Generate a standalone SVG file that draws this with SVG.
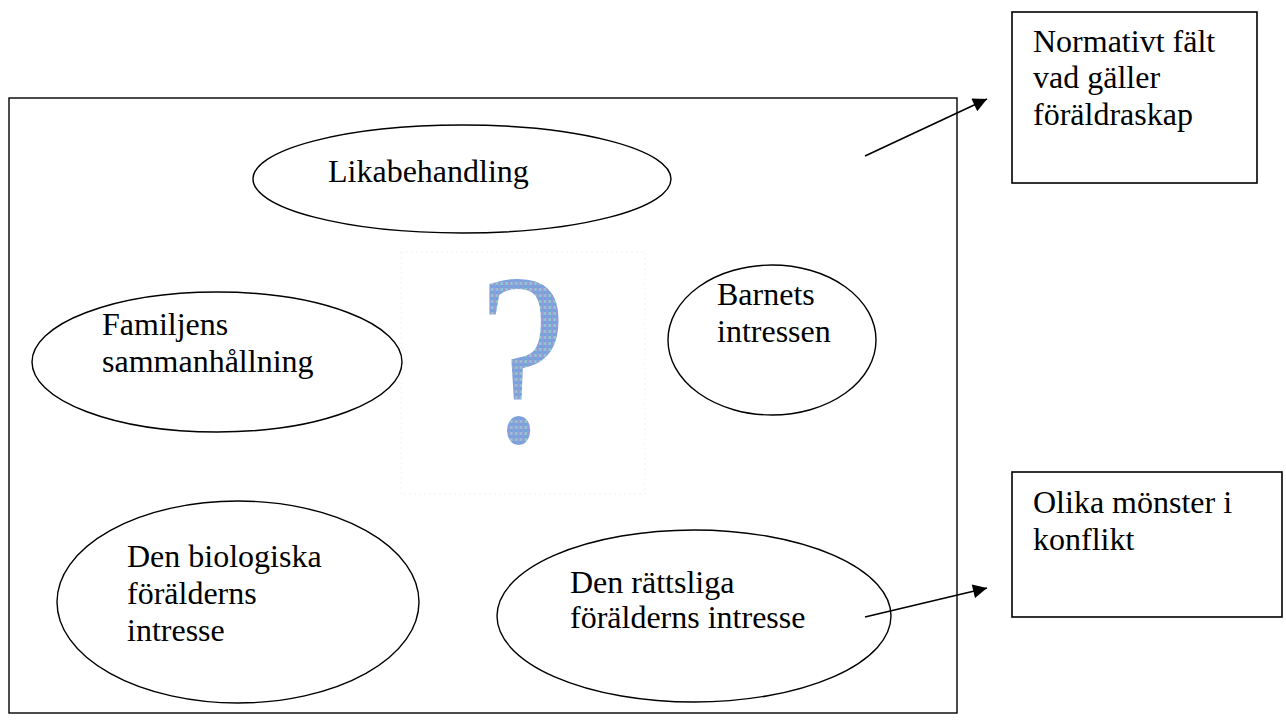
<svg xmlns="http://www.w3.org/2000/svg" width="1286" height="724" viewBox="0 0 1286 724">
<style>
.sh{fill:none;stroke:#000;stroke-width:1.4}
.box{fill:#fff;stroke:#000;stroke-width:1.6}
.t{font-family:"Liberation Serif","Times New Roman",serif;font-size:32px;fill:#000}
.cn{stroke:#000;stroke-width:1.6;fill:none}
</style>
<defs>
<marker id="ah" viewBox="0 0 10 10" refX="10" refY="5" markerUnits="userSpaceOnUse" markerWidth="17" markerHeight="14" orient="auto">
<path d="M0,0 L10,5 L0,10 Z" fill="#000"/>
</marker>
<pattern id="qp" width="6" height="6" patternUnits="userSpaceOnUse">
<rect width="6" height="6" fill="#86a0de"/>
<rect width="3" height="3" fill="#a193d6"/>
<rect x="3" y="3" width="3" height="3" fill="#74a3da"/>
<rect x="3" y="0" width="3" height="3" fill="#8ccad0"/>
</pattern>
</defs>
<rect width="1286" height="724" fill="#fff"/>
<g id="frame">
<rect class="sh" x="9" y="98" width="948" height="615"/>
</g>
<g id="question">
<rect x="401" y="252" width="244" height="242" fill="none" stroke="#f2f2f2" stroke-width="1" stroke-dasharray="2 3"/>
<text x="523" y="442" text-anchor="middle" transform="translate(523 0) scale(0.8 1) translate(-523 0)" style="font-family:'Liberation Serif',serif;font-size:246px" fill="url(#qp)">?</text>
</g>
<g id="likabehandling">
<ellipse class="sh" cx="462" cy="179" rx="209" ry="54"/>
<text class="t" x="328" y="182">Likabehandling</text>
</g>
<g id="familjens">
<ellipse class="sh" cx="217" cy="362" rx="185" ry="70"/>
<text class="t" x="102" y="335">Familjens</text>
<text class="t" x="102" y="372">sammanhållning</text>
</g>
<g id="barnets">
<ellipse class="sh" cx="772" cy="340" rx="104" ry="75"/>
<text class="t" x="717" y="305">Barnets</text>
<text class="t" x="717" y="342">intressen</text>
</g>
<g id="biologiska">
<ellipse class="sh" cx="238" cy="602" rx="181" ry="101"/>
<text class="t" x="127" y="567">Den biologiska</text>
<text class="t" x="127" y="604">förälderns</text>
<text class="t" x="127" y="641">intresse</text>
</g>
<g id="rattsliga">
<ellipse class="sh" cx="694" cy="616" rx="197" ry="86"/>
<text class="t" x="570" y="593">Den rättsliga</text>
<text class="t" x="570" y="628">förälderns intresse</text>
</g>
<g id="normativt">
<rect class="box" x="1012" y="12" width="245" height="171"/>
<text class="t" x="1033" y="52">Normativt fält</text>
<text class="t" x="1033" y="88">vad gäller</text>
<text class="t" x="1033" y="125">föräldraskap</text>
</g>
<g id="olika">
<rect class="box" x="1012" y="472" width="270" height="145"/>
<text class="t" x="1033" y="513">Olika mönster i</text>
<text class="t" x="1033" y="550">konflikt</text>
</g>
<g id="connectors">
<line class="cn" x1="865" y1="156" x2="987" y2="99" marker-end="url(#ah)"/>
<line class="cn" x1="865" y1="617" x2="987" y2="588" marker-end="url(#ah)"/>
</g>
</svg>
